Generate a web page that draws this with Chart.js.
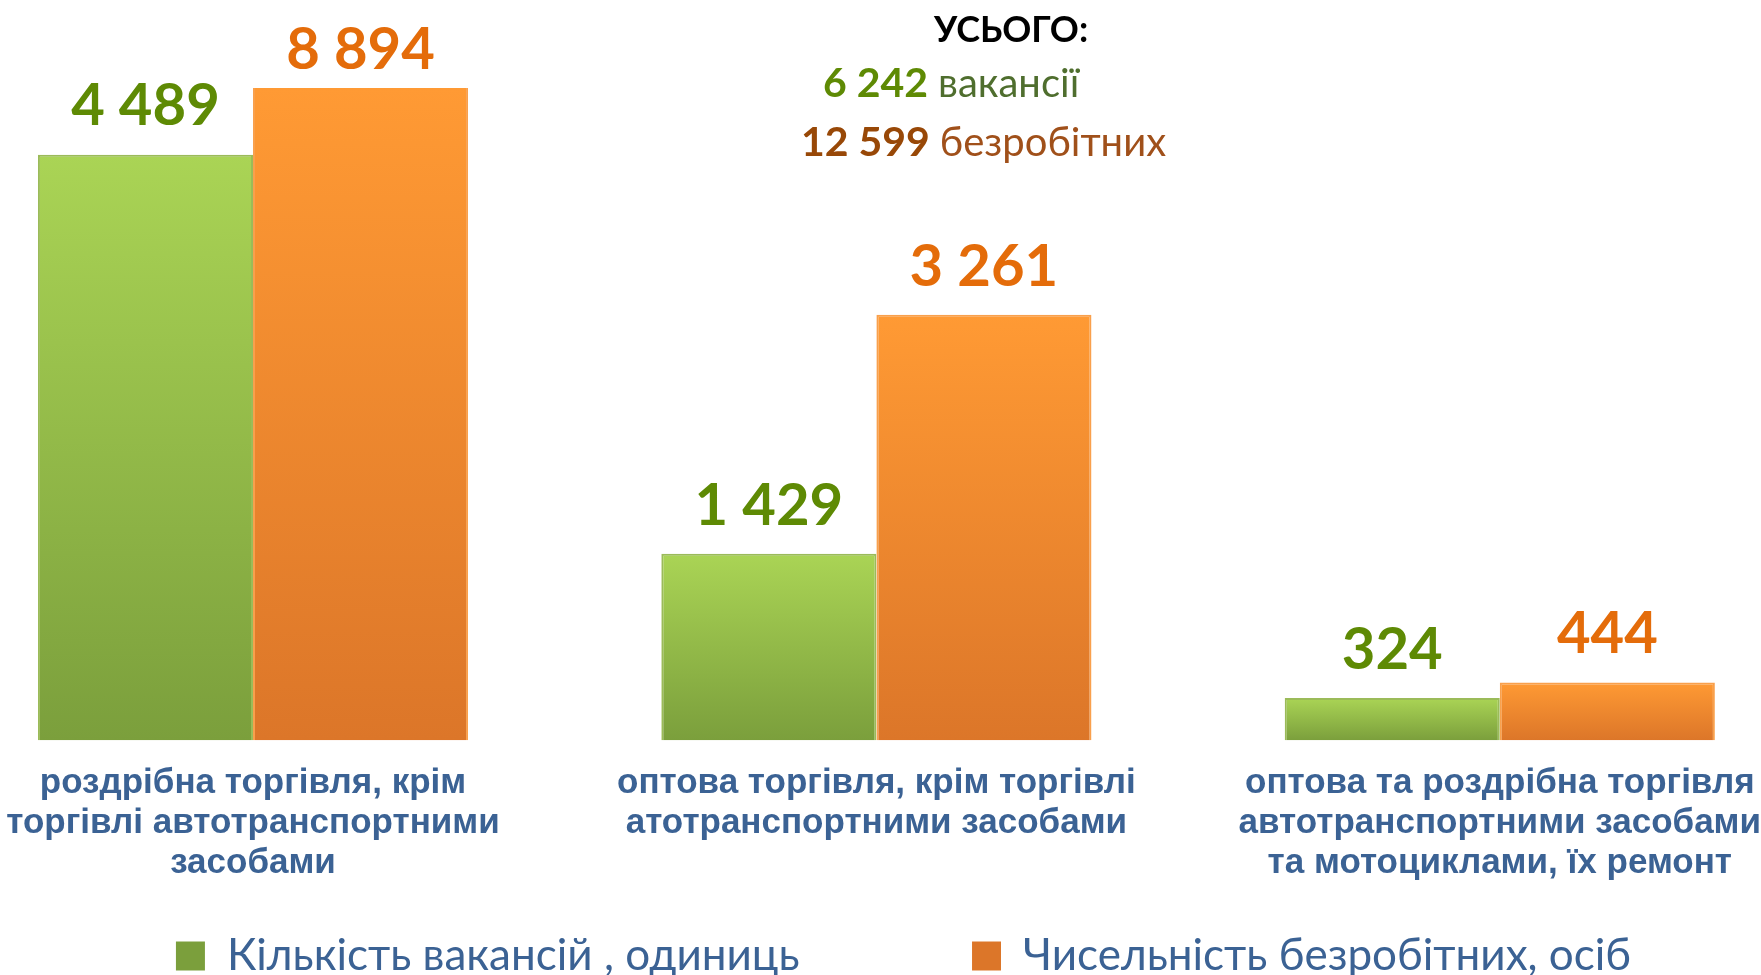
<!DOCTYPE html>
<html>
<head>
<meta charset="utf-8">
<script src="https://cdn.jsdelivr.net/npm/chart.js@4.4.0/dist/chart.umd.min.js"></script>
<style>
  html, body { margin: 0; padding: 0; background: #fff; }
  #wrap { width: 1761px; height: 975px; position: relative; }
</style>
</head>
<body>
<div id="wrap"><canvas id="bar-chart"></canvas></div>
<script>
const categories = [
    ["роздрібна торгівля, крім", "торгівлі автотранспортними", "засобами"],
    ["оптова торгівля, крім торгівлі", "атотранспортними засобами"],
    ["оптова та роздрібна торгівля", "автотранспортними засобами", "та мотоциклами, їх ремонт"],
];
const vacancies = [4489, 1429, 324];
const unemployed = [8894, 3261, 444];
const seriesNames = ["Кількість вакансій , одиниць", "Чисельність безробітних, осіб"];
const yMax = 5000;

const labelBlue = "#3b6294";
const valueColors = ["#5e8a04", "#e46c0a"];

function fmt(v) {
    return String(v).replace(/\B(?=(\d{3})+(?!\d))/g, " ");
}

// vertical gradient per bar, from its top down to the baseline
function barFill(top, bottom) {
    return (c) => {
        const chart = c.chart;
        const area = chart.chartArea;
        if (!area || c.type !== "data") return bottom;
        const y = chart.scales.y;
        const yTop = Math.max(y.getPixelForValue(c.raw), area.top);
        const g = chart.ctx.createLinearGradient(0, yTop, 0, y.getPixelForValue(0));
        g.addColorStop(0, top);
        g.addColorStop(1, bottom);
        return g;
    };
}

const valueLabels = {
    id: "valueLabels",
    afterDatasetsDraw(chart) {
        const { ctx, chartArea } = chart;
        ctx.save();
        ctx.font = "bold 58px Lato";
        ctx.textAlign = "center";
        ctx.textBaseline = "middle";
        chart.data.datasets.forEach((ds, i) => {
            chart.getDatasetMeta(i).data.forEach((bar, j) => {
                const y = bar.y < chartArea.top ? chartArea.top - 38 : bar.y - 48;
                ctx.fillStyle = valueColors[i];
                ctx.fillText(fmt(ds.data[j]), bar.x, y);
            });
        });
        ctx.restore();
    },
};

const totalsHeader = {
    id: "totalsHeader",
    afterDraw(chart) {
        const ctx = chart.ctx;
        const totalVac = vacancies.reduce((a, b) => a + b, 0);
        const totalUnemp = unemployed.reduce((a, b) => a + b, 0);
        ctx.save();
        ctx.textBaseline = "middle";
        ctx.textAlign = "left";
        ctx.font = "bold 36px Lato";
        ctx.fillStyle = "#000";
        ctx.fillText("УСЬОГО:", 934, 30);

        const line = (x, y, num, word, numColor, wordColor) => {
            ctx.font = "bold 41px Lato";
            ctx.fillStyle = numColor;
            ctx.fillText(num, x, y);
            const w = ctx.measureText(num + " ").width;
            ctx.font = "40px Lato";
            ctx.fillStyle = wordColor;
            ctx.fillText(word, x + w, y);
        };
        line(823, 84, fmt(totalVac), "вакансії", "#5e8a04", "#4f6e2e");
        line(801, 143, fmt(totalUnemp), "безробітних", "#984807", "#a0501a");
        ctx.restore();
    },
};

// invisible side axes that reserve room left and right of the plot
const spacer = (pos, w) => ({
    position: pos,
    display: true,
    grid: { display: false, drawTicks: false },
    border: { display: false },
    ticks: { display: false },
    afterFit(scale) { scale.width = w; },
});

const barCtx = document.getElementById("bar-chart");
new Chart(barCtx, {
    type: "bar",
    data: {
        labels: categories,
        datasets: [
            {
                label: seriesNames[0],
                data: vacancies,
                backgroundColor: barFill("#aad455", "#7b9f3c"),
                borderColor: "#9bbb59",
                borderWidth: 2,
                clip: { left: false, right: false, top: 0, bottom: false },
            },
            {
                label: seriesNames[1],
                data: unemployed,
                backgroundColor: barFill("#ff9a34", "#dc7629"),
                borderColor: "#f9a04c",
                borderWidth: 2,
                clip: { left: false, right: false, top: 0, bottom: false },
            },
        ],
    },
    options: {
        responsive: true,
        maintainAspectRatio: false,
        animation: false,
        categoryPercentage: 0.69,
        barPercentage: 1.0,
        layout: { padding: { left: 46, right: 0, top: 88, bottom: -13 } },
        plugins: {
            tooltip: { enabled: false },
            legend: {
                position: "bottom",
                labels: {
                    color: labelBlue,
                    font: { family: "Lato", size: 44 },
                    boxWidth: 29,
                    boxHeight: 29,
                    padding: 2,
                    generateLabels(chart) {
                        const items = Chart.defaults.plugins.legend.labels.generateLabels(chart);
                        items[0].text = items[0].text + "\u2003\u2003\u2003\u2003\u2003\u2009";
                        items.forEach((it) => { it.lineWidth = 0; });
                        return items;
                    },
                },
            },
        },
        scales: {
            x: {
                offset: false,
                grid: { display: false, drawTicks: true, tickLength: 23 },
                border: { display: false },
                ticks: {
                    color: labelBlue,
                    font: { family: "Liberation Sans", weight: "bold", size: 35, lineHeight: 1.14 },
                    padding: 0,
                    maxRotation: 0,
                    autoSkip: false,
                },
                afterFit(scale) { scale.height += 49; },
            },
            y: { ...spacer("left", 207), min: 0, max: yMax },
            yRight: spacer("right", 257),
        },
    },
    plugins: [valueLabels, totalsHeader],
});
</script>
</body>
</html>
